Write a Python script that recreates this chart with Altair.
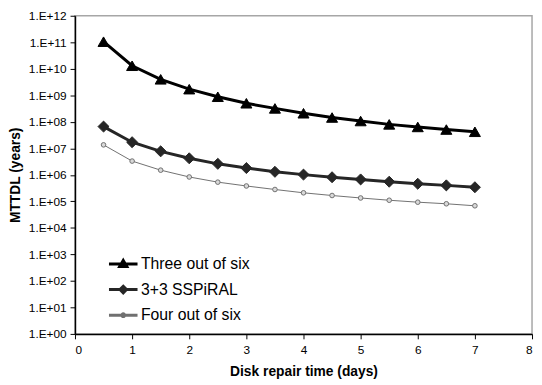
import altair as alt
import pandas as pd

# ---- data ----
repair_days = [0.5, 1.0, 1.5, 2.0, 2.5, 3.0, 3.5, 4.0, 4.5, 5.0, 5.5, 6.0, 6.5, 7.0]
three_of_six = [1.05e11, 1.3e10, 4.0e9, 1.7e9, 8.8e8, 5.0e8, 3.2e8, 2.1e8, 1.45e8,
                1.07e8, 8.0e7, 6.4e7, 5.1e7, 4.2e7]
sspiral_3p3 = [6.6e7, 1.7e7, 7.7e6, 4.2e6, 2.6e6, 1.8e6, 1.3e6, 1.02e6, 8.1e5,
               6.7e5, 5.5e5, 4.6e5, 4.0e5, 3.4e5]
four_of_six = [1.35e7, 3.3e6, 1.5e6, 8.3e5, 5.3e5, 3.8e5, 2.8e5, 2.1e5, 1.66e5,
               1.34e5, 1.1e5, 9.3e4, 8.1e4, 6.8e4]
series_names = ["Three out of six", "3+3 SSPiRAL", "Four out of six"]
y_tick_values = [10.0 ** k for k in range(0, 13)]
x_tick_values = [0, 1, 2, 3, 4, 5, 6, 7, 8]

# ---- styles ----
line_colors = ["#000000", "#262626", "#707070"]
line_widths = [3, 3, 1]
marker_shapes = ["triangle-up", "diamond", "circle"]
marker_sizes = [125, 125, 22]
marker_fills = ["#000000", "#262626", "#d9d9d9"]
marker_strokes = ["#000000", "#262626", "#707070"]
marker_stroke_widths = [1, 1, 1]
legend_paths = [
    "M-2,0L2,0M0,-0.5L0.5,0.35L-0.5,0.35Z",
    "M-2,0L2,0M0,-0.45L0.45,0L0,0.45L-0.45,0Z",
    "M-2,0L2,0M-0.2,0A0.2,0.2 0 1,0 0.2,0A0.2,0.2 0 1,0 -0.2,0Z",
]

rows = []
for name, vals in zip(series_names, [three_of_six, sspiral_3p3, four_of_six]):
    for d, v in zip(repair_days, vals):
        rows.append({"series": name, "days": d, "mttdl": v})
df = pd.DataFrame(rows)

FONT = "Liberation Sans"

x_enc = alt.X(
    "days:Q",
    scale=alt.Scale(domain=[0, 8], nice=False, zero=False),
    axis=alt.Axis(
        title="Disk repair time (days)", values=x_tick_values, format="d",
        grid=False, tickSize=5, labelPadding=6, titlePadding=9,
    ),
)
y_enc = alt.Y(
    "mttdl:Q",
    scale=alt.Scale(type="log", domain=[1, 1e12], nice=False),
    axis=alt.Axis(
        title="MTTDL (years)", values=y_tick_values, grid=False, tickSize=5,
        labelPadding=4, titlePadding=6,
        labelExpr="'1.E+' + (round(log(datum.value)/LN10) < 10 ? '0' : '') + round(log(datum.value)/LN10)",
    ),
)

base = alt.Chart(df)
layers = []
for i, name in enumerate(series_names):
    sub = base.transform_filter(alt.datum.series == name)
    layers.append(
        sub.mark_line(color=line_colors[i], strokeWidth=line_widths[i]).encode(x=x_enc, y=y_enc)
    )
    layers.append(
        sub.mark_point(
            shape=marker_shapes[i], filled=True, size=marker_sizes[i],
            fill=marker_fills[i], stroke=marker_strokes[i],
            strokeWidth=marker_stroke_widths[i], opacity=1,
        ).encode(x=x_enc, y=y_enc)
    )

legend_def = alt.Legend(
    title=None, orient="none", legendX=40, legendY=243, symbolSize=210,
    labelFontSize=16, labelFont=FONT, labelColor="#000000", labelOffset=9,
    rowPadding=7, symbolOpacity=1,
)
legend_layer = base.transform_filter("false").mark_point(filled=True, opacity=1).encode(
    x=x_enc, y=y_enc,
    shape=alt.Shape("series:N", sort=series_names,
                    scale=alt.Scale(domain=series_names, range=legend_paths), legend=legend_def),
    fill=alt.Fill("series:N", sort=series_names,
                  scale=alt.Scale(domain=series_names, range=marker_fills), legend=legend_def),
    stroke=alt.Stroke("series:N", sort=series_names,
                      scale=alt.Scale(domain=series_names, range=line_colors), legend=legend_def),
    strokeWidth=alt.StrokeWidth("series:N", sort=series_names,
                                scale=alt.Scale(domain=series_names, range=line_widths), legend=legend_def),
)
layers.append(legend_layer)

chart = alt.layer(*layers).properties(
    width=464, height=323,
    autosize=alt.AutoSizeParams(type="none"),
    padding={"left": 68, "top": 5, "right": 2, "bottom": 49},
).configure_view(
    stroke="#a6a6a6", strokeWidth=1.5,
).configure_axis(
    labelFont=FONT, labelFontSize=12, labelColor="#000000",
    titleFont=FONT, titleFontSize=14, titleFontWeight="bold", titleColor="#000000",
    domainColor="#000000", tickColor="#000000", domainWidth=1.5,
)

chart.save("out.html", embed_options={"renderer": "svg", "actions": False})
